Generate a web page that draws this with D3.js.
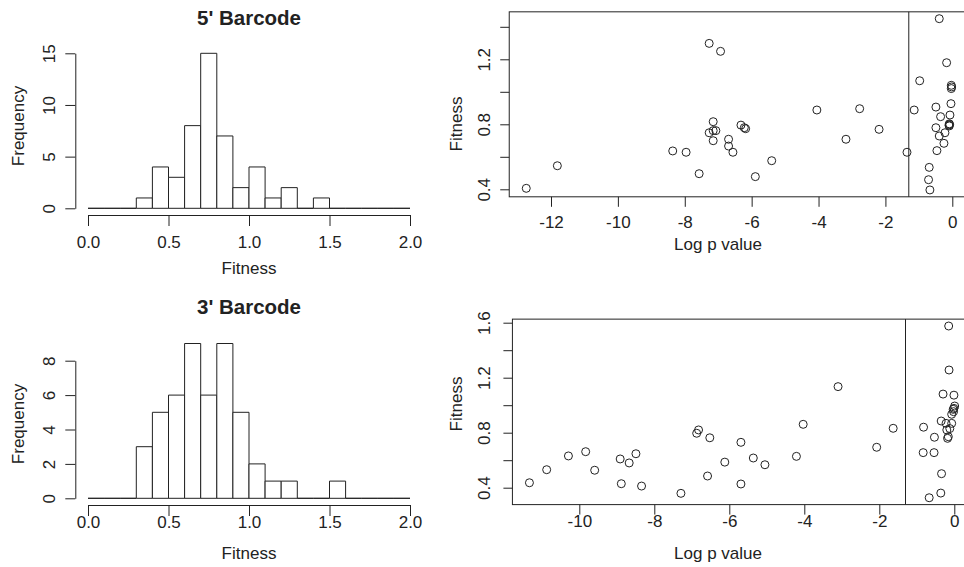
<!DOCTYPE html>
<html>
<head>
<meta charset="utf-8">
<script src="https://cdn.jsdelivr.net/npm/d3@7"></script>
<style>
  html, body { margin: 0; padding: 0; background: #fff; }
  svg { display: block; font-family: "Liberation Sans", Arial, Helvetica, sans-serif; }
</style>
</head>
<body>
<svg id="fig" width="964" height="567"></svg>
<script>
// ---- Histogram bins and counts ----
const binEdges = [0.0, 0.1, 0.2, 0.3, 0.4, 0.5, 0.6, 0.7, 0.8, 0.9, 1.0,
                  1.1, 1.2, 1.3, 1.4, 1.5, 1.6, 1.7, 1.8, 1.9, 2.0];
const counts5 = [0, 0, 0, 1, 4, 3, 8, 15, 7, 2, 4, 1, 2, 0, 1, 0, 0, 0, 0, 0];
const counts3 = [0, 0, 0, 3, 5, 6, 9, 6, 9, 5, 2, 1, 1, 0, 0, 1, 0, 0, 0, 0];

// ---- Fitness vs log10 p value, 5' barcode ----
const logP5 = [-12.74, -11.81, -8.36, -7.96, -7.57, -7.27, -6.93, -7.15, -7.27, -7.15,
               -7.07, -7.15, -6.69, -6.69, -6.56, -6.32, -6.22, -6.18, -5.40, -5.89,
               -4.05, -3.18, -2.77, -2.19, -1.355, -1.14, -0.975, -0.39, -0.17, -0.03,
               -0.02, -0.03, -0.04, -0.49, -0.35, -0.07, -0.49, -0.09, -0.10, -0.08,
               -0.09, -0.22, -0.39, -0.25, -0.46, -0.69, -0.71, -0.67];
const fit5  = [0.406, 0.545, 0.636, 0.628, 0.496, 1.298, 1.249, 0.816, 0.748, 0.761,
               0.761, 0.699, 0.708, 0.666, 0.628, 0.795, 0.779, 0.773, 0.576, 0.478,
               0.888, 0.708, 0.896, 0.769, 0.628, 0.888, 1.068, 1.450, 1.179, 1.040,
               1.030, 1.020, 0.927, 0.906, 0.847, 0.857, 0.779, 0.790, 0.795, 0.799,
               0.803, 0.748, 0.728, 0.683, 0.638, 0.535, 0.459, 0.396];

// ---- Fitness vs log10 p value, 3' barcode ----
const logP3 = [-11.33, -10.87, -10.29, -9.83, -9.59, -8.91, -8.67, -8.49, -8.88, -8.34,
               -7.29, -6.87, -6.82, -6.52, -6.58, -6.12, -5.69, -5.36, -5.05, -5.69,
               -4.21, -4.03, -3.10, -2.07, -1.63, -0.15, -0.14, -0.30, -0.01, 0.01,
               -0.01, -0.02, -0.07, -0.35, -0.22, -0.07, -0.20, -0.82, -0.53, -0.16,
               -0.18, -0.83, -0.54, -0.34, -0.36, -0.67, -0.03, -0.12];
const fit3  = [0.436, 0.531, 0.631, 0.662, 0.527, 0.609, 0.580, 0.647, 0.429, 0.412,
               0.359, 0.796, 0.820, 0.763, 0.485, 0.586, 0.730, 0.616, 0.567, 0.427,
               0.628, 0.861, 1.135, 0.694, 0.832, 1.576, 1.256, 1.081, 1.073, 0.994,
               0.977, 0.953, 0.934, 0.885, 0.868, 0.868, 0.820, 0.840, 0.767, 0.771,
               0.759, 0.655, 0.655, 0.502, 0.361, 0.327, 0.970, 0.830];

// ---- Tick values and labels ----
const histXTicks   = [0, 0.5, 1.0, 1.5, 2.0];
const hist5YTicks  = [0, 5, 10, 15];
const hist3YTicks  = [0, 2, 4, 6, 8];
const sc5XTicks    = [-12, -10, -8, -6, -4, -2, 0];
const sc5YTicks    = [0.4, 0.6, 0.8, 1.0, 1.2, 1.4];
const sc5YLabelled = [0.4, 0.8, 1.2];
const sc3XTicks    = [-10, -8, -6, -4, -2, 0];
const sc3YTicks    = [0.4, 0.6, 0.8, 1.0, 1.2, 1.4, 1.6];
const sc3YLabelled = [0.4, 0.8, 1.2, 1.6];
const pThreshold   = 0.05;

const INK = "#222";
const FS = 17;

// integer labels with a plain hyphen for negatives
const intFmt = v => String(Math.round(v));

const svg = d3.select("#fig");
svg.append("rect").attr("width", 964).attr("height", 567).attr("fill", "#fff");

function styleAxis(g) {
  g.attr("font-size", null).attr("font-family", null);
  g.selectAll("path.domain").attr("stroke", INK).attr("stroke-width", 1);
  g.selectAll(".tick line").attr("stroke", INK).attr("stroke-width", 1);
  g.selectAll(".tick text").attr("fill", INK).style("font-size", FS + "px");
}

function rotateLeftLabels(g, dist) {
  g.selectAll(".tick text")
    .attr("transform", "rotate(-90)")
    .attr("x", 0).attr("y", -dist).attr("dy", 0)
    .attr("text-anchor", "middle");
}

function bottomLabels(g, dist) {
  g.selectAll(".tick text").attr("y", dist).attr("dy", 0);
}

function histogram(o) {
  const g = svg.append("g");
  const x = d3.scaleLinear().domain([0, 2]).range([88, 410]);
  const y = d3.scaleLinear().domain(o.yDomain).range(o.yRange);

  // Bars, drawn as closed paths so empty bins still show as a baseline stroke
  g.selectAll("path.bar")
    .data(o.counts)
    .join("path")
    .attr("class", "bar")
    .attr("d", (c, i) => {
      const x0 = x(binEdges[i]), x1 = x(binEdges[i + 1]);
      return `M${x0},${y(0)}V${y(c)}H${x1}V${y(0)}Z`;
    })
    .attr("fill", "#fff")
    .attr("stroke", INK)
    .attr("stroke-width", 1);

  const xa = g.append("g")
    .attr("transform", `translate(0,${o.xAxisY})`)
    .call(d3.axisBottom(x).tickValues(histXTicks).tickFormat(d3.format(".1f")).tickSize(11).tickSizeOuter(0));
  styleAxis(xa);
  bottomLabels(xa, o.xLabelDist);

  const ya = g.append("g")
    .attr("transform", `translate(75.3,0)`)
    .call(d3.axisLeft(y).tickValues(o.yTicks).tickFormat(intFmt).tickSize(10).tickSizeOuter(0));
  styleAxis(ya);
  rotateLeftLabels(ya, 20.3);

  g.append("text")
    .attr("x", 249).attr("y", o.titleY)
    .attr("text-anchor", "middle")
    .attr("font-weight", "bold")
    .style("font-size", "20.5px")
    .attr("fill", INK)
    .text(o.title);

  g.append("text")
    .attr("x", 249).attr("y", o.xTitleY)
    .attr("text-anchor", "middle")
    .style("font-size", FS + "px")
    .attr("fill", INK)
    .text("Fitness");

  g.append("text")
    .attr("transform", `translate(24,${o.yTitleCY}) rotate(-90)`)
    .attr("text-anchor", "middle")
    .style("font-size", FS + "px")
    .attr("fill", INK)
    .text("Frequency");
}

function scatter(o) {
  const g = svg.append("g");
  const x = d3.scaleLinear().domain(o.xAnchor).range(o.xPix);
  const y = d3.scaleLinear().domain(o.yAnchor).range(o.yPix);

  // plotting region padded 4% around the data range
  const xe = d3.extent(o.xs), ye = d3.extent(o.ys);
  const padX = (xe[1] - xe[0]) * 0.04, padY = (ye[1] - ye[0]) * 0.04;
  const left = x(xe[0] - padX), right = x(xe[1] + padX);
  const top = y(ye[1] + padY), bottom = y(ye[0] - padY);

  const xa = g.append("g")
    .attr("transform", `translate(0,${bottom})`)
    .call(d3.axisBottom(x).tickValues(o.xTicks).tickFormat(intFmt).tickSize(10).tickSizeOuter(0));
  xa.select("path.domain").remove();
  styleAxis(xa);
  bottomLabels(xa, o.xLabelDist);

  const ya = g.append("g")
    .attr("transform", `translate(${left},0)`)
    .call(d3.axisLeft(y).tickValues(o.yTicks)
      .tickFormat(v => o.yLabelled.some(l => Math.abs(l - v) < 1e-9) ? d3.format(".1f")(v) : "")
      .tickSize(9).tickSizeOuter(0));
  ya.select("path.domain").remove();
  styleAxis(ya);
  rotateLeftLabels(ya, o.yLabelDist);

  g.append("rect")
    .attr("x", left).attr("y", top)
    .attr("width", right - left).attr("height", bottom - top)
    .attr("fill", "none").attr("stroke", INK).attr("stroke-width", 1);

  // significance threshold
  g.append("line")
    .attr("x1", x(Math.log10(pThreshold))).attr("x2", x(Math.log10(pThreshold)))
    .attr("y1", top).attr("y2", bottom)
    .attr("stroke", INK).attr("stroke-width", 1);

  g.selectAll("circle")
    .data(o.xs.map((v, i) => [v, o.ys[i]]))
    .join("circle")
    .attr("cx", d => x(d[0])).attr("cy", d => y(d[1]))
    .attr("r", 4)
    .attr("fill", "none").attr("stroke", INK).attr("stroke-width", 1);

  g.append("text")
    .attr("x", 718).attr("y", o.xTitleY)
    .attr("text-anchor", "middle")
    .style("font-size", FS + "px")
    .attr("fill", INK)
    .text("Log p value");

  g.append("text")
    .attr("transform", `translate(461.5,${o.yTitleCY}) rotate(-90)`)
    .attr("text-anchor", "middle")
    .style("font-size", FS + "px")
    .attr("fill", INK)
    .text("Fitness");
}

histogram({
  counts: counts5, yDomain: [0, 15], yRange: [208.3, 53.3], yTicks: hist5YTicks,
  xAxisY: 215, xLabelDist: 33.3, title: "5' Barcode", titleY: 25,
  xTitleY: 274, yTitleCY: 126
});
histogram({
  counts: counts3, yDomain: [0, 8], yRange: [498.3, 360.7], yTicks: hist3YTicks,
  xAxisY: 505, xLabelDist: 23.3, title: "3' Barcode", titleY: 314.3,
  xTitleY: 558.5, yTitleCY: 424
});

scatter({
  xs: logP5, ys: fit5,
  xAnchor: [-12, 0], xPix: [551, 952.3],
  yAnchor: [0.4, 1.2], yPix: [189.3, 59.3],
  xTicks: sc5XTicks, yTicks: sc5YTicks, yLabelled: sc5YLabelled,
  xLabelDist: 31.3, yLabelDist: 19.3, xTitleY: 250, yTitleCY: 124
});
scatter({
  xs: logP3, ys: fit3,
  xAnchor: [-10, 0], xPix: [579.3, 954.3],
  yAnchor: [0.4, 1.6], yPix: [487.7, 322.7],
  xTicks: sc3XTicks, yTicks: sc3YTicks, yLabelled: sc3YLabelled,
  xLabelDist: 22.7, yLabelDist: 22.3, xTitleY: 559, yTitleCY: 404
});
</script>
</body>
</html>
